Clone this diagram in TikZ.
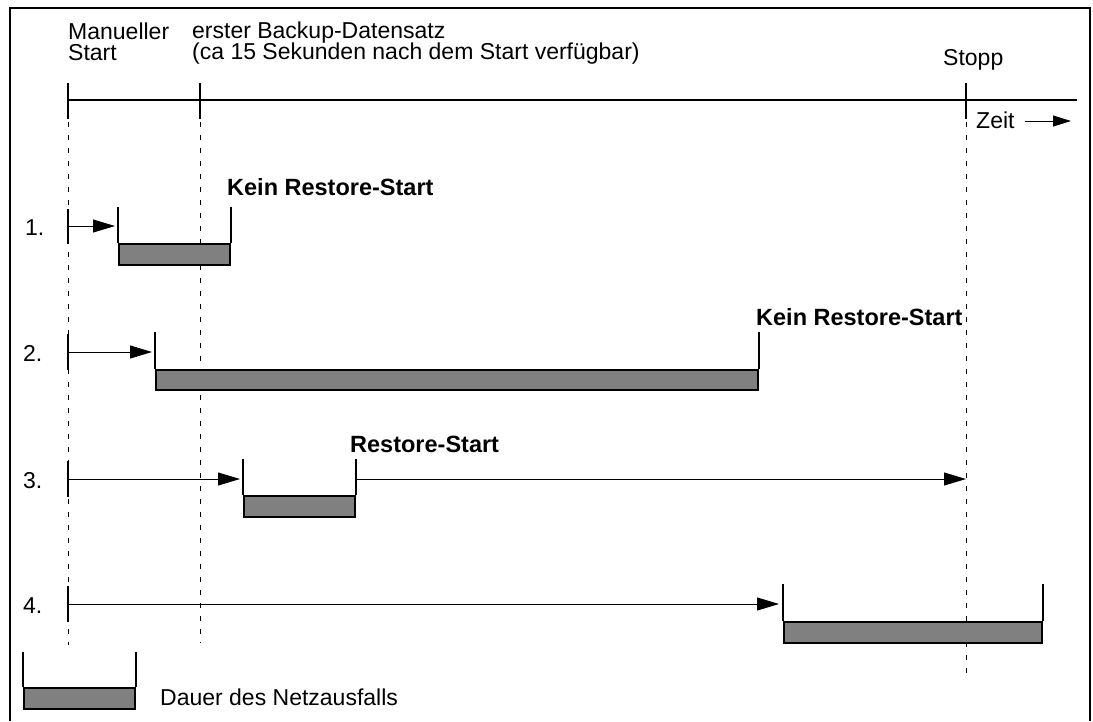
\documentclass[tikz,border=0pt]{standalone}
\usepackage{fontspec}
\setmainfont{Liberation Sans}
\usetikzlibrary{arrows.meta}
\definecolor{outagegray}{RGB}{128,128,128}
\begin{document}
\begin{tikzpicture}[x=1pt,y=-1pt,
  frameline/.style={line width=1.5pt},
  thickline/.style={line width=2pt},
  guide/.style={line width=1pt,dash pattern=on 5pt off 8pt},
  flow/.style={line width=1pt,-{Triangle[length=22pt,width=13pt]}},
  lbl/.style={anchor=base west,inner sep=0pt,font=\fontsize{23}{20}\selectfont},
  blbl/.style={anchor=base west,inner sep=0pt,font=\fontsize{23.5}{20}\selectfont\bfseries},
  outage/.style={fill=outagegray,draw=black,line width=2pt,inner sep=0pt,anchor=south west}
]
\useasboundingbox (0,0) rectangle (1093,721);
% frame
\draw[frameline] (10,721) -- (10,8) -- (1090,8) -- (1090,721);

% time axis
\coordinate (t0) at (68,100);
\coordinate (t1) at (200,100);
\coordinate (t2) at (966,100);
\coordinate (tend) at (1077,100);
\draw[thickline] (t0) -- (tend);
\foreach \c in {t0,t1,t2} \draw[thickline] ([yshift=17pt]\c) -- ([yshift=-19pt]\c);

% guides
\draw[guide] (68,122) -- (68,645);
\draw[guide] (200,122) -- (200,643);
\draw[guide] (966,122) -- (966,677);

% top labels
\node[lbl] (man1) at (68,39) {Manueller};
\node[lbl] (man2) at (68,60) {Start};
\node[lbl] (bak1) at (192,38) {erster Backup-Datensatz};
\node[lbl] (bak2) at (192,59) {(ca 15 Sekunden nach dem Start verfügbar)};
\node[lbl] (stopp) at (943,65) {Stopp};
\node[lbl] (zeit) at (976,128) {Zeit};
\coordinate (za) at (1025,121);
\coordinate (zb) at (1071,121);
\draw[line width=1pt,-{Triangle[length=18pt,width=11pt]}] (za) -- (zb);

% row 1
\node[lbl] (n1) at (25,235) {1.};
\coordinate (s1) at (68,226);
\draw[thickline] (68,209) -- (68,244);
\node[outage,minimum width=111pt,minimum height=21pt] (g1) at (118,266) {};
\draw[thickline] (g1.north west) -- ++(0,-36);
\draw[thickline] (g1.north east) -- ++(0,-36);
\draw[flow,shorten >=3pt] (s1) -- (s1 -| g1.west);
\node[blbl] (k1) at (227,195) {Kein Restore-Start};

% row 2
\node[lbl] (n2) at (23,361) {2.};
\coordinate (s2) at (68,352);
\draw[thickline] (68,334) -- (68,370);
\node[outage,minimum width=602pt,minimum height=20pt] (g2) at (155,391) {};
\draw[thickline] (g2.north west) -- ++(0,-37);
\draw[thickline] (g2.north east) -- ++(0,-37);
\draw[flow,shorten >=3pt] (s2) -- (s2 -| g2.west);
\node[blbl] (k2) at (756,325) {Kein Restore-Start};

% row 3
\node[lbl] (n3) at (23,488) {3.};
\coordinate (s3) at (68,479);
\draw[thickline] (68,461) -- (68,497);
\node[outage,minimum width=111pt,minimum height=21pt] (g3) at (243,518) {};
\draw[thickline] (g3.north west) -- ++(0,-36);
\draw[thickline] (g3.north east) -- ++(0,-36);
\draw[flow,shorten >=3pt] (s3) -- (s3 -| g3.west);
\coordinate (e3) at (966,479);
\draw[flow] (s3 -| g3.east) -- (e3);
\node[blbl] (k3) at (350,452) {Restore-Start};

% row 4
\node[lbl] (n4) at (23,613) {4.};
\coordinate (s4) at (68,604);
\draw[thickline] (68,586) -- (68,622);
\node[outage,minimum width=258pt,minimum height=21pt] (g4) at (783,644) {};
\draw[thickline] (g4.north west) -- ++(0,-37);
\draw[thickline] (g4.north east) -- ++(0,-37);
\draw[flow,shorten >=4pt] (s4) -- (s4 -| g4.west);

% legend
\node[outage,minimum width=111pt,minimum height=21pt] (gl) at (23,710) {};
\draw[thickline] (gl.north west) -- ++(0,-35);
\draw[thickline] (gl.north east) -- ++(0,-35);
\node[lbl] (leg) at (160,705) {Dauer des Netzausfalls};
\end{tikzpicture}
\end{document}
